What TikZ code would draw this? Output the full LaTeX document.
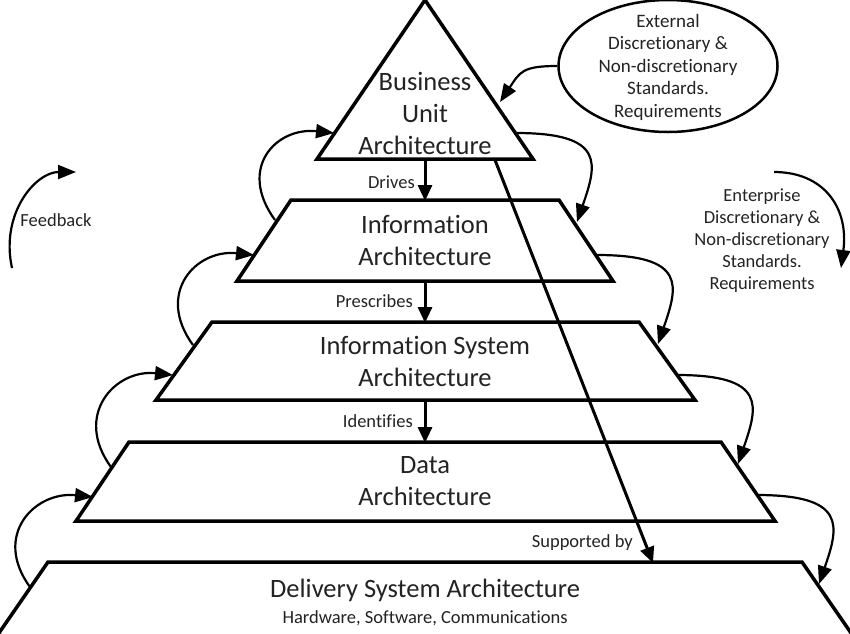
\documentclass[tikz,border=0pt]{standalone}
\usepackage{fontspec}
\setmainfont{Carlito}[Ligatures=NoCommon]
\usetikzlibrary{arrows.meta,shapes.geometric}
\definecolor{txt}{RGB}{35,35,35}
\tikzset{
  level/.style={draw=black,line width=3.5pt,line join=miter,fill=white},
  bigtxt/.style={text=txt,align=center,inner sep=0pt,font=\fontsize{26.5}{32}\selectfont},
  smalltxt/.style={text=txt,align=center,inner sep=0pt,font=\fontsize{18.5}{22}\selectfont},
  ell/.style={text=txt,align=center,inner sep=0pt,font=\fontsize{19}{22.5}\selectfont},
  loop/.style={line width=2.2pt,-{Triangle[length=18pt,width=14pt]}},
  vert/.style={line width=3pt,-{Triangle[length=16pt,width=14pt]}},
}
\begin{document}
\begin{tikzpicture}[x=1pt,y=-1pt]
\useasboundingbox (0,0) rectangle (850,633);
\clip (0,0) rectangle (850,633);
% levels
\draw[level] (425,0) -- (533,159) -- (317,159) -- cycle;
\draw[level] (291,200) -- (559,200) -- (613,281) -- (237,281) -- cycle;
\draw[level] (212,322) -- (639,322) -- (695,400) -- (156,400) -- cycle;
\draw[level] (129,442) -- (721,442) -- (775,521) -- (76,521) -- cycle;
\draw[level] (48,562) -- (802,562) -- (860,646) -- (-10,646) -- cycle;
% texts
\node[bigtxt] (bua) at (425,113) {Business\\Unit\\Architecture};
\node[bigtxt] (ia) at (425,240) {Information\\Architecture};
\node[bigtxt] (isa) at (425,361) {Information System\\Architecture};
\node[bigtxt] (da) at (425,481) {Data\\Architecture};
\node[bigtxt] (dsa) at (425,590) {Delivery System Architecture};
\node[smalltxt] (hsc) at (425,618) {Hardware, Software, Communications};
% vertical arrows
\coordinate (d1) at (425,160); \coordinate (d2) at (425,201);
\coordinate (p1) at (425,282); \coordinate (p2) at (425,323);
\coordinate (i1) at (425,401); \coordinate (i2) at (425,443);
\draw[vert] (d1) -- (d2);
\draw[vert] (p1) -- (p2);
\draw[vert] (i1) -- (i2);
\node[smalltxt,anchor=east] (drv) at (415,182) {Drives};
\node[smalltxt,anchor=east] (prs) at (413,301) {Prescribes};
\node[smalltxt,anchor=east] (idf) at (413,421) {Identifies};
% supported by
\coordinate (s1) at (495,160); \coordinate (s2) at (653,563);
\draw[vert] (s1) -- (s2);
\node[smalltxt,anchor=east] (sup) at (633,543) {Supported by};
% left loops
\coordinate (l1s) at (275,220); \coordinate (l1t) at (334,133);
\coordinate (l2s) at (193,345); \coordinate (l2t) at (254,255);
\coordinate (l3s) at (111,467); \coordinate (l3t) at (173,375);
\coordinate (l4s) at (30,587);  \coordinate (l4t) at (93,497);
\foreach \a in {1,2,3,4}{
  \draw[loop] (l\a s) .. controls +(-38,-52) and +(-58,-6) .. (l\a t);
}
% right loops
\coordinate (r1s) at (516,133); \coordinate (r1t) at (577,222);
\coordinate (r2s) at (597,255); \coordinate (r2t) at (658,344);
\coordinate (r3s) at (677,375); \coordinate (r3t) at (738,464);
\coordinate (r4s) at (757,495); \coordinate (r4t) at (819,584);
\foreach \a in {1,2,3,4}{
  \draw[loop] (r\a s) .. controls +(90,0) and +(20,-58) .. (r\a t);
}
% external ellipse
\node[draw,ellipse,line width=2.5pt,minimum width=219pt,minimum height=132pt,inner sep=0pt] (ext) at (668,66) {};
\node[ell] (exttxt) at (668,67) {External\\Discretionary \&\\Non-discretionary\\Standards.\\Requirements};
\coordinate (ea) at (500,102);
\draw[loop] (ext.west) .. controls +(-35,0) and +(20,-30) .. (ea);
% enterprise
\node[smalltxt] (ent) at (762,241) {Enterprise\\Discretionary \&\\Non-discretionary\\Standards.\\Requirements};
\coordinate (es) at (774,172); \coordinate (et) at (841,268);
\draw[loop] (es) .. controls +(50,0) and +(8,-60) .. (et);
% feedback
\node[smalltxt] (fb) at (56,220) {Feedback};
\coordinate (fs) at (12,268); \coordinate (ft) at (76,172);
\draw[loop] (fs) .. controls +(-12,-55) and +(-40,0) .. (ft);
\end{tikzpicture}
\end{document}
